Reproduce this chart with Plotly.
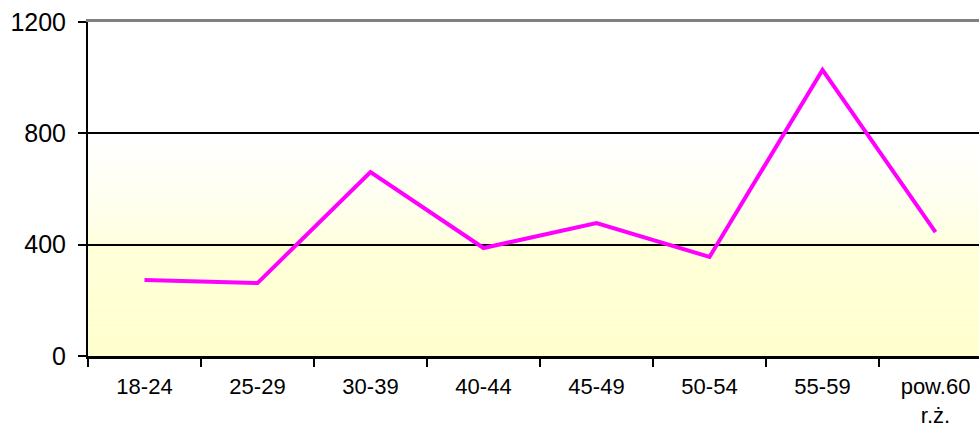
import plotly.graph_objects as go

# Age groups and counts
age_groups = ["18-24", "25-29", "30-39", "40-44", "45-49", "50-54", "55-59", "pow.60<br>r.ż."]
counts = [273, 262, 661, 388, 478, 356, 1028, 445]

y_ticks = [0, 400, 800, 1200]
y_max = 1200
x_range = [-0.5, 7.385]

FONT = "Liberation Sans, Arial, sans-serif"


def blend(t):
    """Background colour at relative height t (0 = bottom, 1 = top)."""
    stops = [(0.0, (255, 255, 204)), (0.33, (255, 255, 210)), (0.37, (255, 255, 226)),
             (0.52, (255, 255, 244)), (0.64, (255, 255, 255)), (1.0, (255, 255, 255))]
    for (t0, c0), (t1, c1) in zip(stops, stops[1:]):
        if t0 <= t <= t1:
            f = (t - t0) / (t1 - t0) if t1 > t0 else 0
            return "rgb(%d,%d,%d)" % tuple(round(a + (b - a) * f) for a, b in zip(c0, c1))
    return "rgb(255,255,255)"


# Soft vertical gradient behind the plot, drawn as thin bands under the grid
step = 6
bands = []
for v in range(0, y_max, step):
    bands.append(dict(
        type="rect", xref="paper", yref="y", x0=0, x1=1, y0=v, y1=v + step,
        fillcolor=blend((v + step / 2) / y_max), line=dict(width=0), layer="below",
    ))

fig = go.Figure()
fig.add_trace(go.Scatter(
    x=age_groups, y=counts, mode="lines",
    line=dict(color="#FF00FF", width=4),
    hoverinfo="x+y", showlegend=False,
))
# helper trace that anchors the top frame axis
fig.add_trace(go.Scatter(x=[0], y=[0], xaxis="x2", mode="markers",
                         marker=dict(opacity=0), hoverinfo="skip", showlegend=False))

fig.update_layout(
    width=979, height=427,
    margin=dict(l=88, r=0, t=22, b=71, autoexpand=False),
    paper_bgcolor="white",
    plot_bgcolor="rgba(0,0,0,0)",
    shapes=bands,
    font=dict(family=FONT, size=22, color="black"),
    xaxis=dict(
        type="category", range=x_range, tickson="boundaries", automargin=False,
        ticks="outside", ticklen=8, tickwidth=2, tickcolor="black",
        showline=True, linecolor="black", linewidth=3,
        showgrid=False, zeroline=False, ticklabelstandoff=9,
        tickfont=dict(family=FONT, size=22, color="black"),
    ),
    xaxis2=dict(
        overlaying="x", side="top", anchor="y", range=[0, 1], automargin=False,
        showline=True, linecolor="#808080", linewidth=3,
        showticklabels=False, ticks="", showgrid=False, zeroline=False,
    ),
    yaxis=dict(
        range=[0, y_max], tickvals=y_ticks, automargin=False,
        ticks="outside", ticklen=8, tickwidth=2, tickcolor="black",
        showline=True, linecolor="black", linewidth=2,
        showgrid=True, gridcolor="black", gridwidth=2,
        zeroline=False, ticklabelstandoff=7,
        tickfont=dict(family=FONT, size=25, color="black"),
    ),
)

fig.write_html("out.html")
